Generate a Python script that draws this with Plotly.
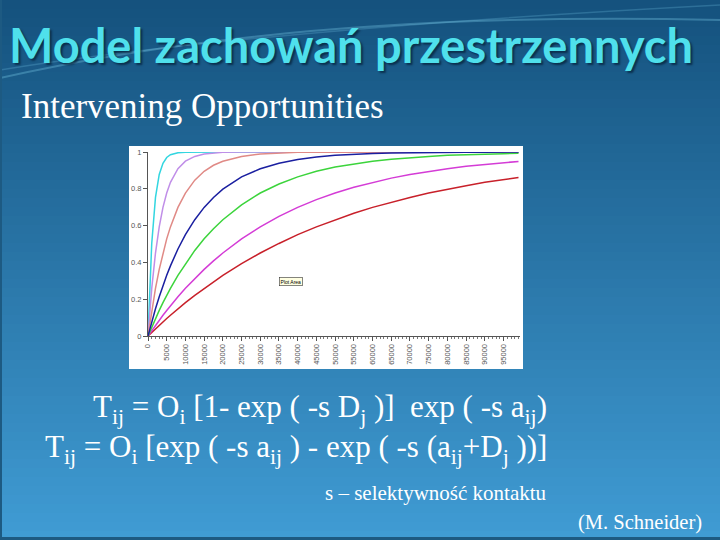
import plotly.graph_objects as go

# ---------------- data ----------------
x_vals = [0, 1000, 2000, 3000, 4000, 5000, 6000, 8000, 10000, 12500, 15000, 17500,
          20000, 25000, 30000, 35000, 40000, 45000, 50000, 55000, 60000, 65000,
          70000, 75000, 80000, 85000, 90000, 95000, 99000]

red = [0, 0.020, 0.039, 0.058, 0.077, 0.095, 0.113, 0.148, 0.181, 0.221, 0.259, 0.295,
       0.330, 0.393, 0.451, 0.503, 0.551, 0.593, 0.632, 0.667, 0.699, 0.727,
       0.753, 0.777, 0.798, 0.817, 0.835, 0.850, 0.862]
magenta = [0, 0.030, 0.058, 0.086, 0.113, 0.139, 0.165, 0.213, 0.259, 0.313, 0.362, 0.408,
           0.451, 0.528, 0.593, 0.650, 0.699, 0.741, 0.777, 0.808, 0.835, 0.858,
           0.878, 0.895, 0.909, 0.922, 0.933, 0.942, 0.949]
green = [0, 0.049, 0.095, 0.139, 0.181, 0.221, 0.259, 0.330, 0.393, 0.465, 0.528, 0.583,
         0.632, 0.713, 0.777, 0.826, 0.865, 0.895, 0.918, 0.936, 0.950, 0.961,
         0.970, 0.976, 0.982, 0.986, 0.989, 0.991, 0.993]
blue = [0, 0.077, 0.148, 0.213, 0.274, 0.330, 0.381, 0.473, 0.551, 0.632, 0.699, 0.753,
        0.798, 0.865, 0.909, 0.939, 0.959, 0.973, 0.982, 0.988, 0.992, 0.9945,
        0.9963, 0.9975, 0.9983, 0.9989, 0.9993, 0.9995, 0.9996]
salmon = [0, 0.139, 0.259, 0.362, 0.451, 0.528, 0.593, 0.699, 0.777, 0.847, 0.895, 0.928,
          0.950, 0.976, 0.989, 0.995, 0.998, 0.999, 0.9994, 1, 1, 1,
          1, 1, 1, 1, 1, 1, 1]
lavender = [0, 0.259, 0.451, 0.593, 0.699, 0.777, 0.835, 0.909, 0.950, 0.976, 0.989, 0.995,
            0.998, 0.9994, 1, 1, 1, 1, 1, 1, 1, 1,
            1, 1, 1, 1, 1, 1, 1]
cyan = [0, 0.503, 0.753, 0.878, 0.939, 0.970, 0.985, 0.996, 0.999, 1, 1, 1,
        1, 1, 1, 1, 1, 1, 1, 1, 1, 1,
        1, 1, 1, 1, 1, 1, 1]

x_tick_vals = list(range(0, 100000, 5000))
x_tick_text = [str(v) for v in x_tick_vals]
y_tick_vals = [0, 0.2, 0.4, 0.6, 0.8, 1]
y_tick_text = ["0", "0.2", "0.4", "0.6", "0.8", "1"]

series = [
    ("cyan", cyan, "#33d6e0"),
    ("lavender", lavender, "#c08ee8"),
    ("salmon", salmon, "#e08a86"),
    ("red", red, "#c8202a"),
    ("magenta", magenta, "#d43cd6"),
    ("green", green, "#3cd43c"),
    ("blue", blue, "#1a1fa0"),
]

# ---------------- layout geometry ----------------
W, H = 720, 540
L, R, T, B = 148, 200, 152, 204
PW, PH = W - L - R, H - T - B


def px(xp):
    return (xp - L) / PW


def py(yp):
    return (H - B - yp) / PH


fig = go.Figure()
for name, vals, col in series:
    fig.add_trace(go.Scatter(x=x_vals, y=vals, mode="lines", name=name,
                             line=dict(color=col, width=1.5), showlegend=False,
                             hoverinfo="skip"))

shapes = []
# slide background gradient (bands)
top_c = (0x15, 0x52, 0x7e)
bot_c = (0x40, 0x9c, 0xd4)
nb = 60
for i in range(nb):
    t = i / (nb - 1)
    c = tuple(int(top_c[k] + (bot_c[k] - top_c[k]) * t) for k in range(3))
    y0 = i * H / nb
    y1 = (i + 1) * H / nb + 1
    shapes.append(dict(type="rect", xref="paper", yref="paper", layer="below",
                       x0=px(0), x1=px(W), y0=py(y1), y1=py(y0),
                       line=dict(width=0), fillcolor="rgb(%d,%d,%d)" % c))
# decorative swooshes at top
shapes.append(dict(type="path", xref="paper", yref="paper", layer="below",
                   path="M %f,%f Q %f,%f %f,%f" % (px(0), py(78), px(300), py(10), px(720), py(20)),
                   line=dict(color="rgba(120,200,230,0.35)", width=2)))
shapes.append(dict(type="path", xref="paper", yref="paper", layer="below",
                   path="M %f,%f Q %f,%f %f,%f" % (px(0), py(70), px(250), py(30), px(720), py(5)),
                   line=dict(color="rgba(120,200,230,0.25)", width=1.5)))
# white chart area
shapes.append(dict(type="rect", xref="paper", yref="paper", layer="below",
                   x0=px(129), x1=px(523), y0=py(369), y1=py(146),
                   line=dict(width=0), fillcolor="white"))
# slide border (bottom and left)
shapes.append(dict(type="rect", xref="paper", yref="paper", layer="above",
                   x0=px(0), x1=px(W), y0=py(H), y1=py(H - 3),
                   line=dict(width=0), fillcolor="#1d5a82"))
shapes.append(dict(type="rect", xref="paper", yref="paper", layer="above",
                   x0=px(0), x1=px(2), y0=py(H), y1=py(0),
                   line=dict(width=0), fillcolor="#1d5a82"))

annotations = [
    dict(text="Model zachowań przestrzennych", x=px(351), y=py(45), xref="paper", yref="paper",
         xanchor="center", yanchor="middle", showarrow=False,
         font=dict(family="Lato", size=47, color="#4fe0ec", weight="bold",
                   shadow="2px 2px 2px rgba(0,20,40,0.6)")),
    dict(text="Intervening Opportunities", x=px(19), y=py(106), xref="paper", yref="paper",
         xanchor="left", yanchor="middle", showarrow=False,
         font=dict(family="Liberation Serif", size=35, color="white")),
    dict(text="T<sub>ij</sub> = O<sub>i</sub> [1- exp ( -s D<sub>j</sub> )]  exp ( -s a<sub>ij</sub>)",
         x=px(549), y=py(409), xref="paper", yref="paper",
         xanchor="right", yanchor="middle", showarrow=False,
         font=dict(family="Liberation Serif", size=31, color="white")),
    dict(text="T<sub>ij</sub> = O<sub>i</sub> [exp ( -s a<sub>ij</sub> ) - exp ( -s (a<sub>ij</sub>+D<sub>j</sub> ))]",
         x=px(549), y=py(449), xref="paper", yref="paper",
         xanchor="right", yanchor="middle", showarrow=False,
         font=dict(family="Liberation Serif", size=31, color="white")),
    dict(text="s – selektywność kontaktu", x=px(549), y=py(493), xref="paper", yref="paper",
         xanchor="right", yanchor="middle", showarrow=False,
         font=dict(family="Liberation Serif", size=21, color="white")),
    dict(text="(M. Schneider)", x=px(704), y=py(522), xref="paper", yref="paper",
         xanchor="right", yanchor="middle", showarrow=False,
         font=dict(family="Liberation Serif", size=20.5, color="white")),
    dict(text="Plot Area", x=px(291), y=py(281.5), xref="paper", yref="paper",
         xanchor="center", yanchor="middle", showarrow=False,
         bgcolor="#ffffe1", bordercolor="#333333", borderwidth=0.6, borderpad=1,
         font=dict(family="Liberation Sans", size=5, color="black")),
]

fig.update_layout(
    width=W, height=H,
    margin=dict(l=L, r=R, t=T, b=B),
    paper_bgcolor="#2a75aa",
    plot_bgcolor="white",
    shapes=shapes,
    annotations=annotations,
    xaxis=dict(range=[0, 99400], tickmode="array", tickvals=x_tick_vals, ticktext=x_tick_text,
               tickangle=-90, ticks="outside", ticklen=4, tickcolor="#555",
               showline=True, linecolor="#555", linewidth=1, showgrid=False, zeroline=False,
               tickfont=dict(family="Liberation Sans", size=7.5, color="#555"),
               minor=dict(dtick=1000, tick0=0, ticks="outside", ticklen=2, tickcolor="#777", showgrid=False)),
    yaxis=dict(range=[0, 1], tickmode="array", tickvals=y_tick_vals, ticktext=y_tick_text,
               ticks="outside", ticklen=4, tickcolor="#555",
               showline=True, linecolor="#555", linewidth=1, showgrid=False, zeroline=False,
               tickfont=dict(family="Liberation Sans", size=7.5, color="#555")),
)

fig.write_html("out.html", config={"displayModeBar": False},
               post_script="document.body.style.margin='0';document.body.style.padding='0';"
                           "document.documentElement.style.overflow='hidden';")
